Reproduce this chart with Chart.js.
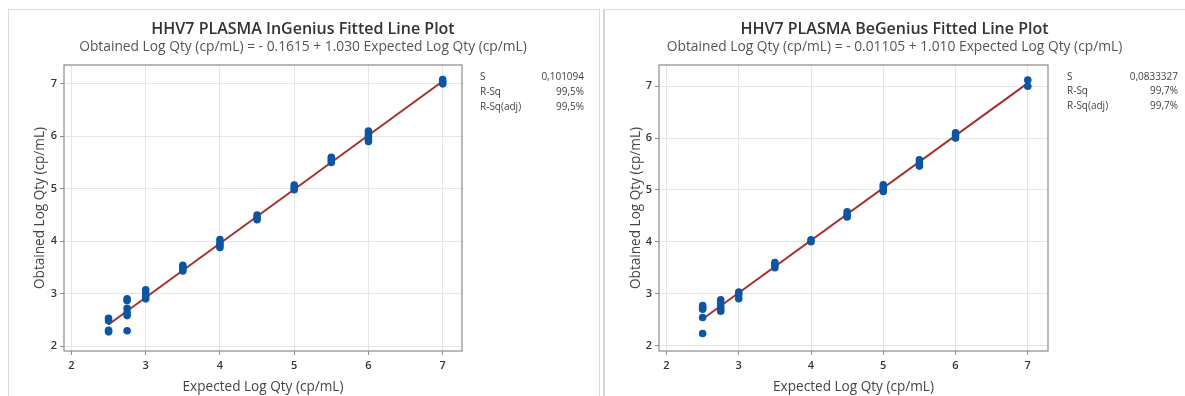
<!DOCTYPE html>
<html>
<head>
<meta charset="utf-8">
<script src="https://cdn.jsdelivr.net/npm/chart.js@4"></script>
<style>
  body { margin: 0; background: #fff; width: 1185px; height: 396px; overflow: hidden; position: relative; }
  .panel { position: absolute; top: 9px; height: 400px; border: 1px solid #dcdcdc; box-sizing: border-box; }
  .wrap { position: absolute; }
</style>
</head>
<body>
<div class="panel" style="left:8px;width:592px;"></div>
<div class="panel" style="left:603px;width:600px;border-left:2px solid #d4d4d4;"></div>
<div class="wrap" style="left:8px;top:10px;width:590px;height:386px;"><canvas id="chartIn"></canvas></div>
<div class="wrap" style="left:604px;top:10px;width:581px;height:386px;"><canvas id="chartBe"></canvas></div>
<script>
// Datos
const inGeniusExpected = [2.5, 2.5, 2.5, 2.5, 2.75, 2.75, 2.75, 2.75, 2.75, 2.75, 3, 3, 3, 3,
  3.5, 3.5, 3.5, 3.5, 4, 4, 4, 4, 4.5, 4.5, 4.5, 5, 5, 5, 5.5, 5.5, 5.5, 6, 6, 6, 6, 6, 7, 7, 7];
const inGeniusObtained = [2.53, 2.48, 2.30, 2.27, 2.90, 2.87, 2.72, 2.64, 2.58, 2.29, 3.07, 3.01, 2.95, 2.90,
  3.54, 3.50, 3.47, 3.43, 4.03, 3.97, 3.93, 3.88, 4.50, 4.45, 4.41, 5.07, 5.02, 4.98, 5.60, 5.55, 5.50,
  6.10, 6.05, 6.00, 5.95, 5.90, 7.08, 7.04, 7.00];
const inGeniusFitX = [2.5, 7];
const inGeniusFitY = [2.41, 7.05];
const inGeniusStats = ['0,101094', '99,5%', '99,5%'];

const beGeniusExpected = [2.5, 2.5, 2.5, 2.5, 2.5, 2.75, 2.75, 2.75, 2.75, 2.75, 3, 3, 3,
  3.5, 3.5, 3.5, 4, 4, 4.5, 4.5, 4.5, 5, 5, 5, 5, 5.5, 5.5, 5.5, 6, 6, 6, 7, 7];
const beGeniusObtained = [2.77, 2.73, 2.70, 2.54, 2.23, 2.88, 2.82, 2.75, 2.70, 2.66, 3.03, 2.98, 2.90,
  3.60, 3.55, 3.50, 4.04, 4.00, 4.58, 4.52, 4.48, 5.10, 5.05, 5.00, 4.97, 5.58, 5.52, 5.46,
  6.10, 6.05, 6.00, 7.12, 7.00];
const beGeniusFitX = [2.5, 7];
const beGeniusFitY = [2.51, 7.06];
const beGeniusStats = ['0,0833327', '99,7%', '99,7%'];

const statLabels = ['S', 'R-Sq', 'R-Sq(adj)'];
const axisTicks = [2, 3, 4, 5, 6, 7];

const FONT = "'Open Sans', 'Noto Sans', sans-serif";

function toPoints(xs, ys) {
    return xs.map((x, i) => ({ x: x, y: ys[i] }));
}

function makeChart(id, cfg) {
    const ctx = document.getElementById(id).getContext('2d');

    // caja del área de trazado + tabla de estadísticos
    const extras = {
        id: 'extras',
        afterDatasetsDraw(chart) {
            const a = chart.chartArea;
            const c = chart.ctx;
            c.save();
            c.strokeStyle = '#8c8c8c';
            c.lineWidth = 1.2;
            c.strokeRect(a.left, a.top, a.right - a.left, a.bottom - a.top);
            c.font = '10px ' + FONT;
            c.fillStyle = '#444';
            c.textBaseline = 'middle';
            statLabels.forEach((lab, i) => {
                const y = cfg.statTop + i * cfg.statStep;
                c.textAlign = 'left';
                c.fillText(lab, cfg.statLabelX, y);
                c.textAlign = 'right';
                c.fillText(cfg.stats[i], cfg.statValueX, y);
            });
            c.restore();
        }
    };

    return new Chart(ctx, {
        type: 'scatter',
        data: {
            datasets: [{
                label: 'Datos',
                data: toPoints(cfg.xs, cfg.ys),
                backgroundColor: '#0a56a6',
                borderWidth: 0,
                pointRadius: 3.8,
                order: 1
            }, {
                type: 'line',
                label: 'Ajuste',
                data: toPoints(cfg.fitX, cfg.fitY),
                borderColor: '#a8302b',
                borderWidth: 2,
                pointRadius: 0,
                fill: false,
                order: 2
            }]
        },
        options: {
            responsive: true,
            maintainAspectRatio: false,
            animation: false,
            layout: { padding: 0 },
            plugins: {
                legend: { display: false },
                tooltip: { enabled: false },
                title: {
                    display: true,
                    text: cfg.title,
                    color: '#333',
                    font: { family: FONT, size: 16, weight: '600', lineHeight: 1.2 },
                    padding: { top: 10, bottom: 0 }
                },
                subtitle: {
                    display: true,
                    text: cfg.subtitle,
                    color: '#555',
                    font: { family: FONT, size: 13.8, lineHeight: 1.13 },
                    padding: { top: 0, bottom: 10.2 }
                }
            },
            scales: {
                x: {
                    type: 'linear',
                    min: cfg.xMin,
                    max: cfg.xMax,
                    afterBuildTicks(s) { s.ticks = axisTicks.map(v => ({ value: v })); },
                    afterFit(s) { s.height = 45; },
                    grid: { color: '#e6e6e6', tickLength: 4, tickColor: '#8c8c8c' },
                    border: { display: false },
                    ticks: { color: '#333', padding: 4, font: { family: FONT, size: 11, weight: '600' } },
                    title: {
                        display: true,
                        text: 'Expected Log Qty (cp/mL)',
                        color: '#444',
                        font: { family: FONT, size: 13.6 },
                        padding: { top: 0, bottom: 1.2 }
                    }
                },
                y: {
                    type: 'linear',
                    min: cfg.yMin,
                    max: cfg.yMax,
                    afterBuildTicks(s) { s.ticks = axisTicks.map(v => ({ value: v })); },
                    afterFit(s) { s.width = cfg.yAxisWidth; },
                    grid: { color: '#e6e6e6', tickLength: 4, tickColor: '#8c8c8c' },
                    border: { display: false },
                    ticks: { color: '#333', padding: 3, font: { family: FONT, size: 11, weight: '600' } },
                    title: {
                        display: true,
                        text: 'Obtained Log Qty (cp/mL)',
                        color: '#444',
                        font: { family: FONT, size: 13.6 },
                        padding: { top: 24, bottom: 0 }
                    }
                },
                side: {
                    type: 'linear',
                    position: 'right',
                    grid: { display: false, drawTicks: false },
                    ticks: { display: false },
                    border: { display: false },
                    afterFit(s) { s.width = cfg.rightSpace; }
                }
            }
        },
        plugins: [extras]
    });
}

makeChart('chartIn', {
    title: 'HHV7 PLASMA InGenius Fitted Line Plot',
    subtitle: 'Obtained Log Qty (cp/mL) = - 0.1615 + 1.030 Expected Log Qty (cp/mL)',
    xs: inGeniusExpected, ys: inGeniusObtained,
    fitX: inGeniusFitX, fitY: inGeniusFitY,
    stats: inGeniusStats,
    xMin: 1.90, xMax: 7.26, yMin: 1.905, yMax: 7.36,
    yAxisWidth: 56, rightSpace: 136,
    statLabelX: 472, statValueX: 576, statTop: 67, statStep: 15
});

makeChart('chartBe', {
    title: 'HHV7 PLASMA BeGenius Fitted Line Plot',
    subtitle: 'Obtained Log Qty (cp/mL) = - 0.01105 + 1.010 Expected Log Qty (cp/mL)',
    xs: beGeniusExpected, ys: beGeniusObtained,
    fitX: beGeniusFitX, fitY: beGeniusFitY,
    stats: beGeniusStats,
    xMin: 1.896, xMax: 7.28, yMin: 1.893, yMax: 7.41,
    yAxisWidth: 55, rightSpace: 137,
    statLabelX: 463, statValueX: 574, statTop: 67, statStep: 14.5
});
</script>
</body>
</html>
